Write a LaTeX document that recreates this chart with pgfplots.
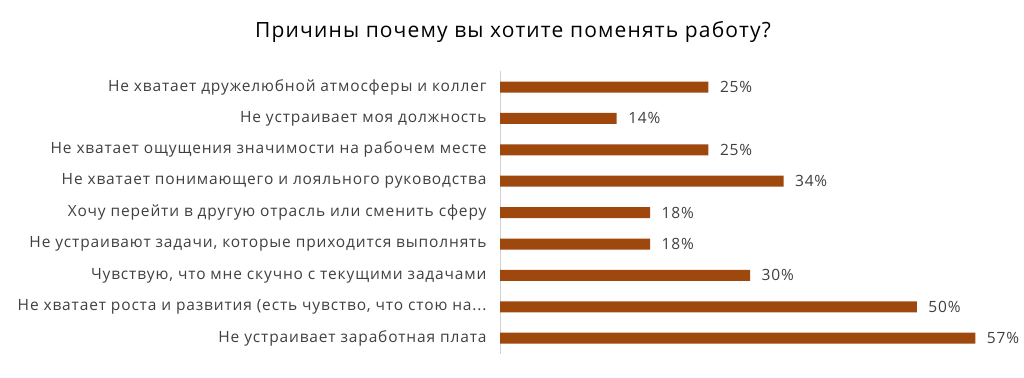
\documentclass[border=0pt]{standalone}
\usepackage{pgfplots}
\pgfplotsset{compat=1.18}
\usepackage{fontspec}
\setmainfont{Open Sans}[LetterSpace=5.5]
\definecolor{barc}{HTML}{9E480E}
\definecolor{txt}{HTML}{404040}
\begin{document}
\begin{tikzpicture}[x=1pt,y=1pt]
\path[use as bounding box] (0,0) rectangle (1024,377);
\node[font=\fontsize{21}{25}\selectfont, text=black] at (513,345) {Причины почему вы хотите поменять работу?};
\begin{axis}[
  at={(500pt,23.1pt)}, anchor=south west,
  scale only axis, width=517pt, height=282.6pt,
  xmin=0, xmax=62, ymin=-0.5, ymax=8.5,
  y dir=reverse,
  xbar, bar width=11pt, bar shift=0pt,
  axis lines*=left,
  x axis line style={draw=none},
  y axis line style={draw=black!18, line width=0.8pt, -},
  xtick=\empty,
  ytick={0,1,2,3,4,5,6,7,8},
  major tick length=0pt,
  /pgf/number format/assume math mode=true,
  yticklabels={Не хватает дружелюбной атмосферы и коллег,Не устраивает моя должность,Не хватает ощущения значимости на рабочем месте,Не хватает понимающего и лояльного руководства,Хочу перейти в другую отрасль или сменить сферу,{Не устраивают задачи, которые приходится выполнять},{Чувствую, что мне скучно с текущими задачами},{Не хватает роста и развития (есть чувство, что стою на{.}{.}{.}},Не устраивает заработная плата},
  yticklabel style={font=\fontsize{15.5}{18}\selectfont, text=txt, xshift=-10pt},
  nodes near coords={\pgfmathprintnumber{\pgfplotspointmeta}\%},
  nodes near coords style={font=\fontsize{15.5}{18}\selectfont, text=txt, anchor=west, xshift=8pt},
  point meta=explicit,
  clip=false,
]
\addplot[fill=barc, draw=none] table[x=v, y=i, meta=v] {
i v
0 25
1 14
2 25
3 34
4 18
5 18
6 30
7 50
8 57
};
\end{axis}
\end{tikzpicture}
\end{document}
